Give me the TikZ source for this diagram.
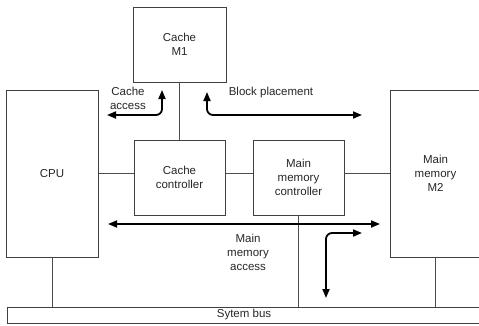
\documentclass[tikz,border=0pt]{standalone}
\usepackage{fontspec}
\setmainfont{Liberation Sans}
\usetikzlibrary{arrows.meta}
\begin{document}
\begin{tikzpicture}[x=1pt,y=-1pt,
  box/.style={draw=black!75,line width=0.8pt,rectangle,inner sep=0pt,align=center,font=\fontsize{11.5}{14}\selectfont,text=black!85},
  wire/.style={draw=black!70,line width=0.8pt},
  flow/.style={line width=1.8pt,rounded corners=6pt,{Triangle[length=9pt,width=7pt]}-{Triangle[length=9pt,width=7pt]}},
  lbl/.style={align=center,font=\fontsize{11.5}{14}\selectfont,text=black!85,inner sep=0pt}]
\useasboundingbox[clip] (0,0) rectangle (479,325);
\node[box,minimum width=93pt,minimum height=75pt] (cache) at (179.5,44.5) {Cache\\M1};
\node[box,minimum width=92pt,minimum height=167pt] (cpu) at (52,173.5) {CPU};
\node[box,minimum width=91pt,minimum height=75pt] (cc) at (179.5,177.5) {Cache\\controller};
\node[box,minimum width=91pt,minimum height=75pt] (mmc) at (298.5,177.5) {Main\\memory\\controller};
\node[box,minimum width=91pt,minimum height=167pt] (mm) at (435.5,173.5) {Main\\memory\\M2};
\node[box,minimum width=474pt,minimum height=16pt] (bus) at (244,315) {Sytem bus};
% wires
\draw[wire] (cache.south -| cc.north) -- (cc.north);
\draw[wire] (cpu.east) -- (cpu.east -| cc.west);
\draw[wire] (cpu.east -| cc.east) -- (cpu.east -| mmc.west);
\draw[wire] (cpu.east -| mmc.east) -- (mm.west);
\draw[wire] (cpu.south) -- (cpu.south |- bus.north);
\draw[wire] (mmc.south) -- (mmc.south |- bus.north);
\draw[wire] (mm.south) -- (mm.south |- bus.north);
% flows
\coordinate (ca1) at (107,115);
\coordinate (ca2) at (162,90);
\draw[flow] (ca1) -- (ca1 -| ca2) -- (ca2);
\coordinate (bp1) at (207,92);
\coordinate (bp2) at (362,115);
\draw[flow] (bp1) -- (bp1 |- bp2) -- (bp2);
\coordinate (ma1) at (108,224);
\coordinate (ma2) at (380,224);
\draw[flow] (ma1) -- (ma2);
\coordinate (mb1) at (326,298);
\coordinate (mb2) at (362,233);
\draw[flow] (mb1) -- (mb1 |- mb2) -- (mb2);
% labels
\node[lbl] (lca) at (128,98) {Cache\\access};
\node[lbl] (lbp) at (271,93) {Block placement};
\node[lbl] (lma) at (248,252) {Main\\memory\\access};
\end{tikzpicture}
\end{document}
